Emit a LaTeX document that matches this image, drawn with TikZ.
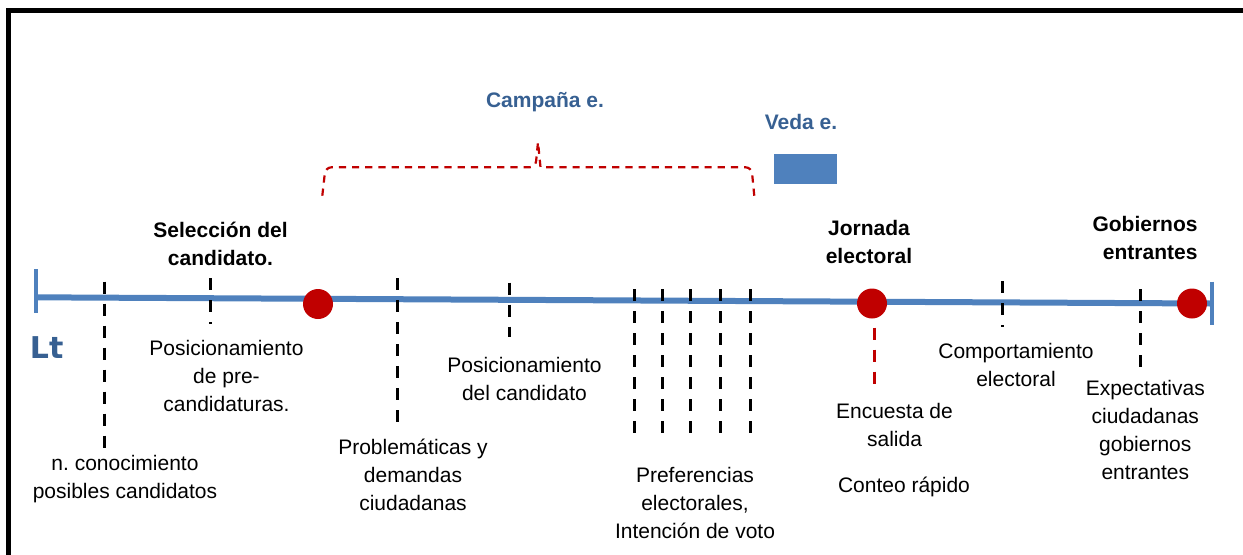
\documentclass[tikz,border=0pt]{standalone}
\usepackage{fontspec}
\setmainfont{Liberation Sans}
\newfontfamily\ltfont{DejaVu Sans}
\usepackage{tikz}
\definecolor{azullinea}{HTML}{4F81BD}
\definecolor{azultexto}{HTML}{376092}
\definecolor{rojohito}{HTML}{C00000}
\frenchspacing

\begin{document}
\begin{tikzpicture}[
  x=0.5pt, y=-0.5pt,
  etiqueta/.style={align=center, inner sep=0pt, font=\fontsize{10.5}{14}\selectfont},
  etapa/.style={etiqueta, font=\fontsize{10.5}{14}\selectfont\bfseries},
  periodo/.style={etapa, text=azultexto},
  hito/.style={circle, fill=rojohito, minimum size=15pt, inner sep=0pt},
  corte/.style={line width=1.5pt, dash pattern=on 6pt off 5pt},
  corterojo/.style={corte, draw=rojohito},
  tope/.style={draw=azullinea, line width=2.3pt},
  llave/.style={draw=rojohito, line width=1.1pt, dash pattern=on 3.6pt off 3pt}
]
\clip (0,0) rectangle (1243,554);
\draw[line width=2.3pt] (8.5,560) -- (8.5,10.5) -- (1250,10.5);

% linea de tiempo
\coordinate (ini) at (36,297.3);
\coordinate (fin) at (1212,303.5);
\draw[azullinea, line width=3pt] (ini) -- (fin);
\coordinate (inia) at (36,269);
\coordinate (inib) at (36,313);
\coordinate (fina) at (1212,281.7);
\coordinate (finb) at (1212,325);
\path (inia) edge[tope] (inib)
(fina) edge[tope] (finb);

\node[hito] (seleccion) at (318,304) {};
\node[hito] (jornada) at (872,303.5) {};
\node[hito] (gobierno) at (1192,303.5) {};

% cortes
\coordinate (c1a) at (104,281.7);  \coordinate (c1b) at (104,450);
\coordinate (c2a) at (210,278.3);  \coordinate (c2b) at (210,324.3);
\coordinate (c3a) at (397.7,278.3); \coordinate (c3b) at (397.7,422.3);
\coordinate (c4a) at (509.3,282.7); \coordinate (c4b) at (509.3,336.7);
\coordinate (c5a) at (634.3,289.3); \coordinate (c5b) at (634.3,436);
\coordinate (c6a) at (662,289.3);  \coordinate (c6b) at (662,436);
\coordinate (c7a) at (690,289.3);  \coordinate (c7b) at (690,436);
\coordinate (c8a) at (720,289.3);  \coordinate (c8b) at (720,436);
\coordinate (c9a) at (750,289.3);  \coordinate (c9b) at (750,436);
\coordinate (c10a) at (1002,281);  \coordinate (c10b) at (1002,326.7);
\coordinate (c11a) at (1140,289.3); \coordinate (c11b) at (1140,369.3);
\coordinate (rja) at (874.7,327.7); \coordinate (rjb) at (874.7,385);
\path (c1a) edge[corte] (c1b)
(c2a) edge[corte] (c2b)
(c3a) edge[corte] (c3b)
(c4a) edge[corte] (c4b)
(c5a) edge[corte] (c5b)
(c6a) edge[corte] (c6b)
(c7a) edge[corte] (c7b)
(c8a) edge[corte] (c8b)
(c9a) edge[corte] (c9b)
(c10a) edge[corte] (c10b)
(c11a) edge[corte] (c11b)
(rja) edge[corterojo] (rjb)
;

% campana y veda
\draw[llave] (322.3,195.7) [rounded corners=3pt] -- (325.5,167.3) -- (535.5,167.3) [sharp corners] -- (538,142) -- (540.5,167.3) [rounded corners=3pt] -- (751.5,167.3) -- (754.3,196);
\node[periodo] (campana) at (545,101.7) {Campaña e.};
\node[periodo] (veda) at (801,121.5) {Veda e.};
\node[fill=azullinea, minimum width=31.5pt, minimum height=15pt, inner sep=0pt] (vedabarra) at (805.5,169) {};

\node[text=azultexto, inner sep=0pt, font={\ltfont\fontsize{15}{16}\selectfont\bfseries}] (lt) at (46.7,347.5) {Lt};

\node[etapa] (selec) at (220.5,243.5) {Selección del\\candidato.};
\node[etapa] (jorn) at (869,241.5) {Jornada\\electoral};
\node[etapa, align=right] (gob) at (1145,238) {Gobiernos\\entrantes};

\node[etiqueta] (conoc) at (125,479.5) {n. conocimiento\\posibles candidatos};
\node[etiqueta] (precand) at (226.5,375.5) {Posicionamiento\\de pre-\\candidaturas.};
\node[etiqueta] (problem) at (413,474.5) {Problemáticas y\\demandas\\ciudadanas};
\node[etiqueta] (poscand) at (524.5,378.5) {Posicionamiento\\del candidato};
\node[etiqueta] (prefer) at (695,502.5) {Preferencias\\electorales,\\Intención de voto};
\node[etiqueta] (encuesta) at (894.5,424.5) {Encuesta de\\salida};
\node[etiqueta] (conteo) at (904,487) {Conteo rápido};
\node[etiqueta] (comport) at (1016,364.5) {Comportamiento\\electoral};
\node[etiqueta] (expect) at (1145.3,430) {Expectativas\\ciudadanas\\gobiernos\\entrantes};
\end{tikzpicture}
\end{document}
